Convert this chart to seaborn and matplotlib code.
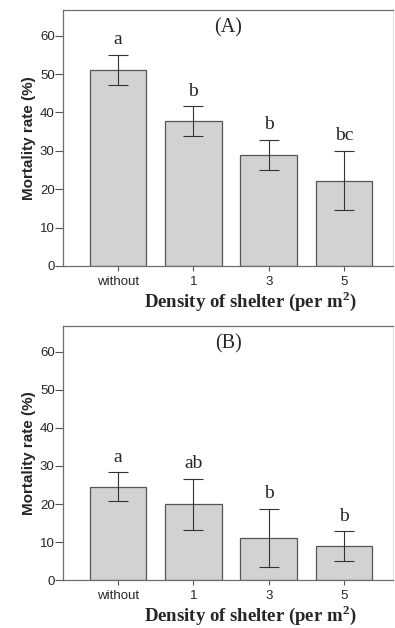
import pandas as pd
import matplotlib.pyplot as plt
import seaborn as sns

# Datos
densidad = ["without", "1", "3", "5"]

mort_a = [51.0, 37.7, 28.9, 22.2]
sup_a = [55.0, 41.6, 32.8, 29.9]
inf_a = [47.2, 34.0, 25.1, 14.6]
letras_a = ["a", "b", "b", "bc"]

mort_b = [24.5, 20.0, 11.1, 9.0]
sup_b = [28.3, 26.7, 18.8, 12.8]
inf_b = [20.7, 13.3, 3.4, 5.1]
letras_b = ["a", "ab", "b", "b"]

sns.set_style("ticks")
plt.rcParams["font.family"] = ["Liberation Sans", "DejaVu Sans"]

fig = plt.figure(figsize=(3.95, 6.28), dpi=100)
ax_a = fig.add_axes([63 / 395, 1 - 266 / 628, 330 / 395, 256 / 628])
ax_b = fig.add_axes([63 / 395, 1 - 580.3 / 628, 330 / 395, 254.3 / 628])

paneles = [
    (ax_a, mort_a, sup_a, inf_a, letras_a, "(A)"),
    (ax_b, mort_b, sup_b, inf_b, letras_b, "(B)"),
]

for ax, mort, sup, inf, letras, etiqueta in paneles:
    df = pd.DataFrame({"Densidad": densidad, "Mortalidad": mort})
    sns.barplot(x="Densidad", y="Mortalidad", data=df, ax=ax, color="#d2d2d2",
                saturation=1, width=0.75, edgecolor="#555555", linewidth=0.9,
                errorbar=None)
    err = [[m - i for m, i in zip(mort, inf)], [s - m for s, m in zip(sup, mort)]]
    ax.errorbar(range(len(densidad)), mort, yerr=err, fmt="none", ecolor="#333333",
                elinewidth=0.8, capsize=7.5, capthick=0.8)
    for i, (s, letra) in enumerate(zip(sup, letras)):
        ax.text(i, s + 2.8, letra, ha="center", va="baseline",
                family="Liberation Serif", fontsize=14)
    ax.text(0.5, 0.93, etiqueta, transform=ax.transAxes, ha="center", va="center",
            family="Liberation Serif", fontsize=14.5)

    ax.set_xlim(-0.73, 3.65)
    ax.set_ylim(0, 66.7)
    ax.set_yticks(range(0, 61, 10))
    for sp in ax.spines.values():
        sp.set_color("#6e6e6e")
        sp.set_linewidth(0.9)
    ax.spines["right"].set_color("#e6e6e6")
    ax.tick_params(axis="y", length=5.5, width=0.8, color="#555555", labelsize=9.5,
                   pad=0.5)
    ax.tick_params(axis="x", length=3.5, width=0.8, color="#555555", labelsize=9.5,
                   pad=3.5)
    ax.set_ylabel("Mortality rate (%)", fontsize=11, fontweight="bold", labelpad=3)
    ax.set_xlabel("Density of shelter (per m$^\\mathregular{2}$)",
                  family="Liberation Serif", fontsize=13.5, fontweight="bold")
    ax.xaxis.set_label_coords((250 - 63) / 330, -0.138)
    ax.xaxis.label.set_va("center")

fig.savefig("out.png", dpi=100)
